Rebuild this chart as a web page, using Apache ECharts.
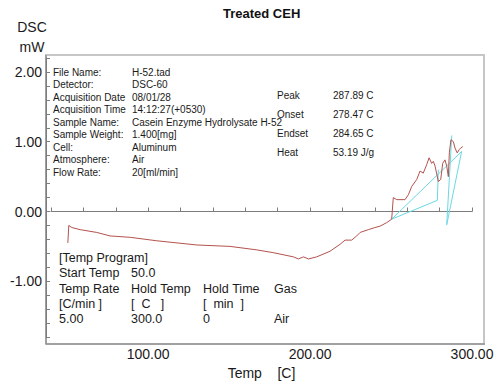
<!DOCTYPE html>
<html>
<head>
<meta charset="utf-8">
<script src="https://cdn.jsdelivr.net/npm/echarts@6/dist/echarts.min.js"></script>
<style>
  html, body { margin: 0; padding: 0; background: #fff; }
  #chart { width: 500px; height: 385px; }
</style>
</head>
<body>
<div id="chart"></div>
<script>
// DSC curve (temp in C, signal in mW)
var temps = [50.4, 51.0, 52.9, 58.0, 68.3, 76.5, 88.9, 105.4, 130.1, 150.6, 167.1, 177.3, 189.7, 192.8, 195.9, 199.0, 204.1, 212.3, 218.5, 221.6, 225.7, 228.8, 230.9, 236.0, 240.0, 243.2, 247.3, 250.4, 251.4, 253.5, 258.6, 260.7, 262.8, 265.9, 267.9, 269.9, 272.0, 273.5, 275.1, 276.1, 277.2, 279.2, 280.7, 281.9, 283.3, 284.4, 285.4, 286.0, 287.0, 288.5, 289.5, 290.9, 292.2, 293.0, 294.3];
var dsc = [-0.45, -0.20, -0.23, -0.26, -0.30, -0.35, -0.37, -0.42, -0.48, -0.50, -0.55, -0.59, -0.65, -0.68, -0.65, -0.68, -0.65, -0.57, -0.47, -0.41, -0.41, -0.35, -0.30, -0.26, -0.23, -0.21, -0.16, -0.11, 0.20, 0.17, 0.17, 0.24, 0.36, 0.46, 0.58, 0.55, 0.67, 0.77, 0.69, 0.72, 0.65, 0.43, 0.46, 0.69, 0.74, 0.65, 0.50, 0.84, 1.03, 1.00, 0.91, 0.84, 0.89, 0.91, 0.93];

// cyan construction lines (baseline / onset / peak)
var baseX = [293.6, 250.4, 278.6, 279.2];
var baseY = [0.86, -0.11, 0.16, 0.60];
var peakX = [287.5, 284.4, 293.6];
var peakY = [1.09, -0.19, 0.86];

// labelled ticks
var xLabels = [100, 200, 300];
var yLabels = [-1, 0, 1, 2];

// text blocks
var infoKeys = ['File Name:', 'Detector:', 'Acquisition Date', 'Acquisition Time', 'Sample Name:', 'Sample Weight:', 'Cell:', 'Atmosphere:', 'Flow Rate:'];
var infoVals = ['H-52.tad', 'DSC-60', '08/01/28', '14:12:27(+0530)', 'Casein Enzyme Hydrolysate H-52', '1.400[mg]', 'Aluminum', 'Air', '20[ml/min]'];
var peakKeys = ['Peak', 'Onset', 'Endset', 'Heat'];
var peakVals = ['287.89 C', '278.47 C', '284.65 C', '53.19 J/g'];
var progRows = [
  ['[Temp Program]'],
  ['Start Temp', '50.0'],
  ['Temp Rate', 'Hold Temp', 'Hold Time', 'Gas'],
  ['[C/min ]', '[  C   ]', '[  min  ]'],
  ['5.00', '300.0', '0', 'Air']
];

function pairs(xs, ys) {
  return xs.map(function (x, i) { return [x, ys[i]]; });
}

var FONT = '"Liberation Sans", Arial, sans-serif';
var TXT = '#1a1a1a';
var AXIS = '#7d7d7d';

function txt(x, y, s, size, extra) {
  var st = { text: s, fontSize: size, fontFamily: FONT, fill: TXT, verticalAlign: 'middle', align: 'left' };
  if (extra) for (var k in extra) st[k] = extra[k];
  return { type: 'text', x: x, y: y, silent: true, z: 10, style: st };
}

var graphics = [
  { type: 'rect', silent: true, z: 0, shape: { x: 46, y: 55, width: 438, height: 289 }, style: { fill: 'none', stroke: '#c6c6c6', lineWidth: 2 } },
  { type: 'line', silent: true, z: 1, shape: { x1: 46, y1: 55, x2: 46, y2: 344 }, style: { stroke: AXIS, lineWidth: 1 } },
  { type: 'line', silent: true, z: 1, shape: { x1: 46, y1: 344, x2: 485, y2: 344 }, style: { stroke: AXIS, lineWidth: 1 } },
  txt(32, 27, 'DSC', 14, { align: 'center' }),
  txt(32, 47, 'mW', 14, { align: 'center' })
];
infoKeys.forEach(function (k, i) {
  graphics.push(txt(53, 72 + i * 12.5, k, 10));
  graphics.push(txt(132, 72 + i * 12.5, infoVals[i], 10));
});
peakKeys.forEach(function (k, i) {
  graphics.push(txt(277, 95 + i * 19.3, k, 10));
  graphics.push(txt(333, 95 + i * 19.3, peakVals[i], 10));
});
var progCols = [59, 131, 203, 274];
progRows.forEach(function (row, i) {
  row.forEach(function (c, j) {
    graphics.push(txt(progCols[j], 258 + i * 15.3, c.replace(/ /g, '\u00a0'), 12.5));
  });
});

var chart = echarts.init(document.getElementById('chart'), null, { renderer: 'svg' });
chart.setOption({
  animation: false,
  backgroundColor: '#fff',
  title: {
    text: 'Treated CEH',
    left: 218,
    top: 2,
    textStyle: { fontSize: 13, fontWeight: 'bold', fontFamily: FONT, color: '#111' }
  },
  grid: { left: 51, right: 28, top: 58, bottom: 47 },
  xAxis: {
    type: 'value',
    min: 40,
    max: 300,
    interval: 20,
    offset: 6,
    name: 'Temp\u00a0\u00a0\u00a0\u00a0[C]',
    nameLocation: 'middle',
    nameGap: 22,
    nameTextStyle: { fontSize: 14, fontFamily: FONT, color: TXT },
    axisLine: { show: true, lineStyle: { color: AXIS, width: 1 } },
    splitLine: { show: false },
    axisTick: { show: true, inside: true, length: 4, lineStyle: { color: AXIS, width: 1 } },
    axisLabel: {
      margin: 4,
      fontSize: 14,
      fontFamily: FONT,
      color: TXT,
      formatter: function (v) {
        return xLabels.some(function (l) { return Math.abs(l - v) < 1e-6; }) ? v.toFixed(2) : '';
      }
    }
  },
  yAxis: {
    type: 'value',
    min: -1.8,
    max: 2.2,
    interval: 0.2,
    offset: 5,
    axisLine: { show: true, lineStyle: { color: AXIS, width: 1 } },
    splitLine: { show: false },
    axisTick: { show: true, inside: true, length: 4, lineStyle: { color: AXIS, width: 1 } },
    axisLabel: {
      margin: 4,
      fontSize: 14,
      fontFamily: FONT,
      color: TXT,
      formatter: function (v) {
        return yLabels.some(function (l) { return Math.abs(l - v) < 1e-6; }) ? v.toFixed(2) : '';
      }
    }
  },
  graphic: graphics,
  series: [
    {
      type: 'line',
      data: pairs(temps, dsc),
      showSymbol: false,
      lineStyle: { color: '#b4524e', width: 1 },
      z: 3
    },
    {
      type: 'line',
      data: pairs(baseX, baseY),
      showSymbol: false,
      lineStyle: { color: '#6ad9e3', width: 1 },
      z: 2
    },
    {
      type: 'line',
      data: pairs(peakX, peakY),
      showSymbol: false,
      lineStyle: { color: '#6ad9e3', width: 1 },
      z: 2
    }
  ]
});
</script>
</body>
</html>
